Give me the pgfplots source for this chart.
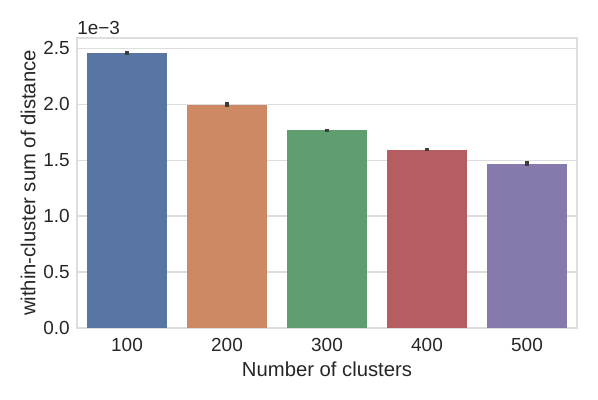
\documentclass[border=0pt]{standalone}
\usepackage{fontspec}
\setmainfont{Liberation Sans}
\usepackage{pgfplots}
\pgfplotsset{compat=1.18}
\definecolor{sbblue}{HTML}{5875A4}
\definecolor{sborange}{HTML}{CC8963}
\definecolor{sbgreen}{HTML}{5F9E6E}
\definecolor{sbred}{HTML}{B55D60}
\definecolor{sbpurple}{HTML}{857AAB}
\definecolor{gridc}{HTML}{DDDDDD}
\definecolor{txt}{HTML}{262626}
\definecolor{errc}{HTML}{3D3D3D}

\pgfplotsset{
    sbbar/.style={
        draw=none,
        error bars/.cd,
            y dir=both, y explicit,
            error mark=none,
            error bar style={draw=errc, line width=2.6pt},
    },
}

\begin{document}
\begin{tikzpicture}
\useasboundingbox (-57.75pt,-53.25pt) rectangle (390.75pt,246pt);
\begin{axis}[
    at={(0,0)}, anchor=south west,
    scale only axis, width=375pt, height=217.5pt,
    clip=false,
    ybar, bar width=0.8, bar shift=0pt,
    xmin=-0.5, xmax=4.5,
    ymin=0, ymax=2.59,
    xtick={0,1,2,3,4}, xticklabels={100,200,300,400,500},
    ytick={0,0.5,1,1.5,2,2.5},
    /pgf/number format/fixed,
    /pgf/number format/fixed zerofill,
    /pgf/number format/precision=1,
    /pgf/number format/assume math mode=true,
    major tick length=0pt,
    tick label style={font=\fontsize{14.2}{16}\selectfont, text=txt},
    label style={font=\fontsize{15.2}{17}\selectfont, text=txt},
    xlabel={Number of clusters},
    ylabel={within-cluster sum of distance},
    xlabel style={yshift=-1pt},
    ylabel style={yshift=-1pt},
    xticklabel style={yshift=-4pt},
    yticklabel style={xshift=-2pt},
    axis line style={gridc, line width=0.8pt},
    ymajorgrids=true, grid style={gridc, line width=0.8pt},
]
\addplot[fill=sbblue, sbbar] coordinates {(0,2.457) +- (0,0.016)};
\addplot[fill=sborange, sbbar] coordinates {(1,1.995) +- (0,0.02)};
\addplot[fill=sbgreen, sbbar] coordinates {(2,1.765) +- (0,0.012)};
\addplot[fill=sbred, sbbar] coordinates {(3,1.592) +- (0,0.012)};
\addplot[fill=sbpurple, sbbar] coordinates {(4,1.468) +- (0,0.022)};
\node[anchor=south west, inner sep=0pt, text=txt, font=\fontsize{14.2}{16}\selectfont]
    at (rel axis cs:0,1) [yshift=2pt] {1e−3};
\end{axis}
\end{tikzpicture}
\end{document}
